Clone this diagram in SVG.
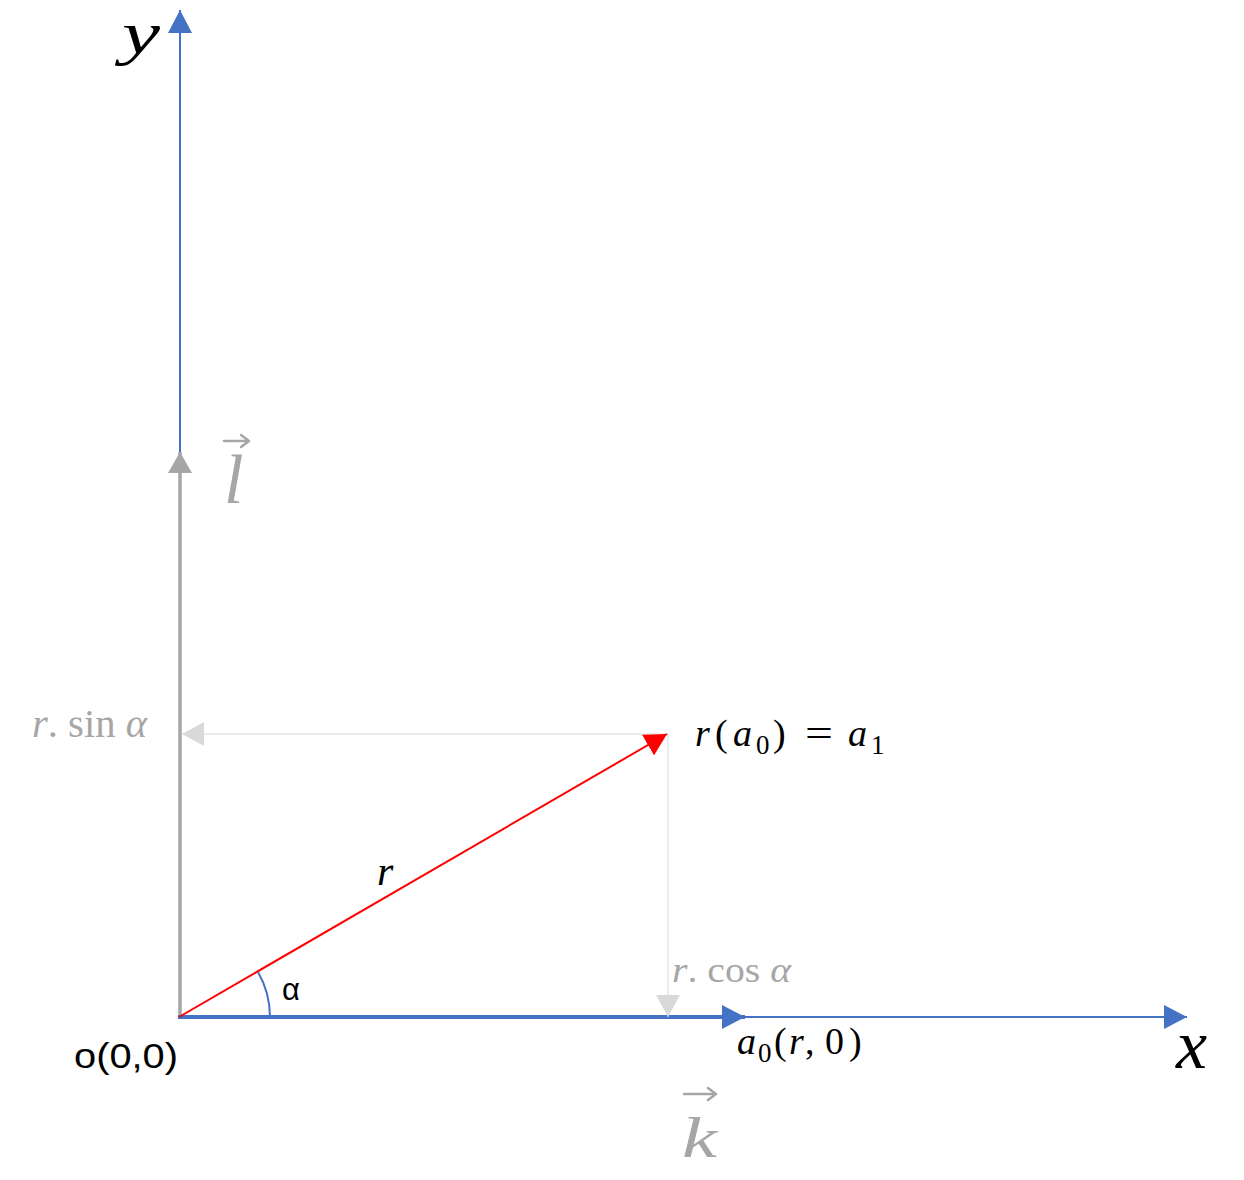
<svg xmlns="http://www.w3.org/2000/svg" width="1244" height="1180" viewBox="0 0 1244 1180">
<style>
.math{font-family:"Liberation Serif","DejaVu Serif",serif;font-style:italic}
.rm{font-style:normal}
.gray{fill:#a6a6a6}
.blk{fill:#000}
.sans{font-family:"Liberation Sans","Open Sans",sans-serif}
.acc{fill:none;stroke:#a6a6a6;stroke-width:2.5;stroke-linecap:round;stroke-linejoin:round}
</style>
<defs>
<marker id="ab" viewBox="0 0 23 24" refX="23" refY="12" markerWidth="23" markerHeight="24" markerUnits="userSpaceOnUse" orient="auto"><path d="M0,0 L23,12 L0,24 z" fill="#4472c4"/></marker>
<marker id="ag" viewBox="0 0 21 24" refX="21" refY="12" markerWidth="21" markerHeight="24" markerUnits="userSpaceOnUse" orient="auto"><path d="M0,0 L21,12 L0,24 z" fill="#a6a6a6"/></marker>
<marker id="al" viewBox="0 0 22 24" refX="22" refY="12" markerWidth="22" markerHeight="24" markerUnits="userSpaceOnUse" orient="auto"><path d="M0,0 L22,12 L0,24 z" fill="#d9d9d9"/></marker>
<marker id="ar" viewBox="0 0 22 24" refX="22" refY="12" markerWidth="22" markerHeight="24" markerUnits="userSpaceOnUse" orient="auto"><path d="M0,0 L22,12 L0,24 z" fill="#ff0000"/></marker>
</defs>
<g id="connectors" fill="none">
<line id="y-axis" x1="180" y1="1017" x2="180" y2="10" stroke="#4472c4" stroke-width="2" marker-end="url(#ab)"/>
<line id="x-axis" x1="180" y1="1017" x2="1187" y2="1017" stroke="#4472c4" stroke-width="2" marker-end="url(#ab)"/>
<line id="vec-l" x1="180" y1="1019" x2="180" y2="452" stroke="#a6a6a6" stroke-width="3.5" marker-end="url(#ag)"/>
<line id="vec-k" x1="178" y1="1017" x2="745" y2="1017" stroke="#4472c4" stroke-width="4" marker-end="url(#ab)"/>
<line id="proj-y" x1="668" y1="734" x2="182" y2="734" stroke="#d9d9d9" stroke-width="1" marker-end="url(#al)"/>
<line id="proj-x" x1="668" y1="734" x2="668" y2="1017" stroke="#d9d9d9" stroke-width="1" marker-end="url(#al)"/>
<line id="vec-r" x1="179" y1="1017" x2="667" y2="734" stroke="#ff0000" stroke-width="2" marker-end="url(#ar)"/>
<path id="angle-arc" d="M270,1017 A90,90 0 0 0 258,972" stroke="#4472c4" stroke-width="2"/>
</g>
<g id="label-y"><text class="math blk" x="122" y="53" font-size="60" textLength="38" lengthAdjust="spacingAndGlyphs">y</text></g>
<g id="label-x"><text class="math blk" x="1176" y="1068" font-size="70">x</text></g>
<g id="label-l"><text class="math gray" x="224" y="503" font-size="70">l</text><path class="acc" d="M224,441 H249 M241,435 L249,441 L241,447"/></g>
<g id="label-k"><text class="math gray" x="682" y="1157" font-size="58" textLength="35" lengthAdjust="spacingAndGlyphs">k</text><path class="acc" d="M684,1094 H716 M708,1088 L716,1094 L708,1100"/></g>
<g id="label-rsin"><text class="math gray" x="32" y="737" font-size="40" textLength="115" lengthAdjust="spacingAndGlyphs">r<tspan class="rm">. sin </tspan>α</text></g>
<g id="label-rcos"><text class="math gray" x="672" y="982" font-size="36" textLength="119" lengthAdjust="spacingAndGlyphs">r<tspan class="rm">. cos </tspan>α</text></g>
<g id="label-ra0"><text class="math blk" y="746" font-size="38"><tspan x="695">r</tspan><tspan class="rm" x="715">(</tspan><tspan x="733">a</tspan><tspan class="rm" font-size="27" x="756" dy="8">0</tspan><tspan class="rm" x="773" dy="-8">)</tspan><tspan class="rm" x="805" textLength="28" lengthAdjust="spacingAndGlyphs">=</tspan><tspan x="848">a</tspan><tspan class="rm" font-size="27" x="871" dy="8">1</tspan></text></g>
<g id="label-a0"><text class="math blk" y="1054" font-size="38"><tspan x="737">a</tspan><tspan class="rm" font-size="27" x="758" dy="8">0</tspan><tspan class="rm" x="774" dy="-8">(</tspan><tspan x="789">r</tspan><tspan class="rm" x="805">,</tspan><tspan class="rm" x="825">0</tspan><tspan class="rm" x="849">)</tspan></text></g>
<g id="label-r"><text class="math blk" x="377" y="885" font-size="42">r</text></g>
<g id="label-alpha"><text class="sans blk" x="282" y="1000" font-size="31">α</text></g>
<g id="label-origin"><text class="sans blk" x="74" y="1068" font-size="35" textLength="104" lengthAdjust="spacingAndGlyphs">o(0,0)</text></g>
</svg>
